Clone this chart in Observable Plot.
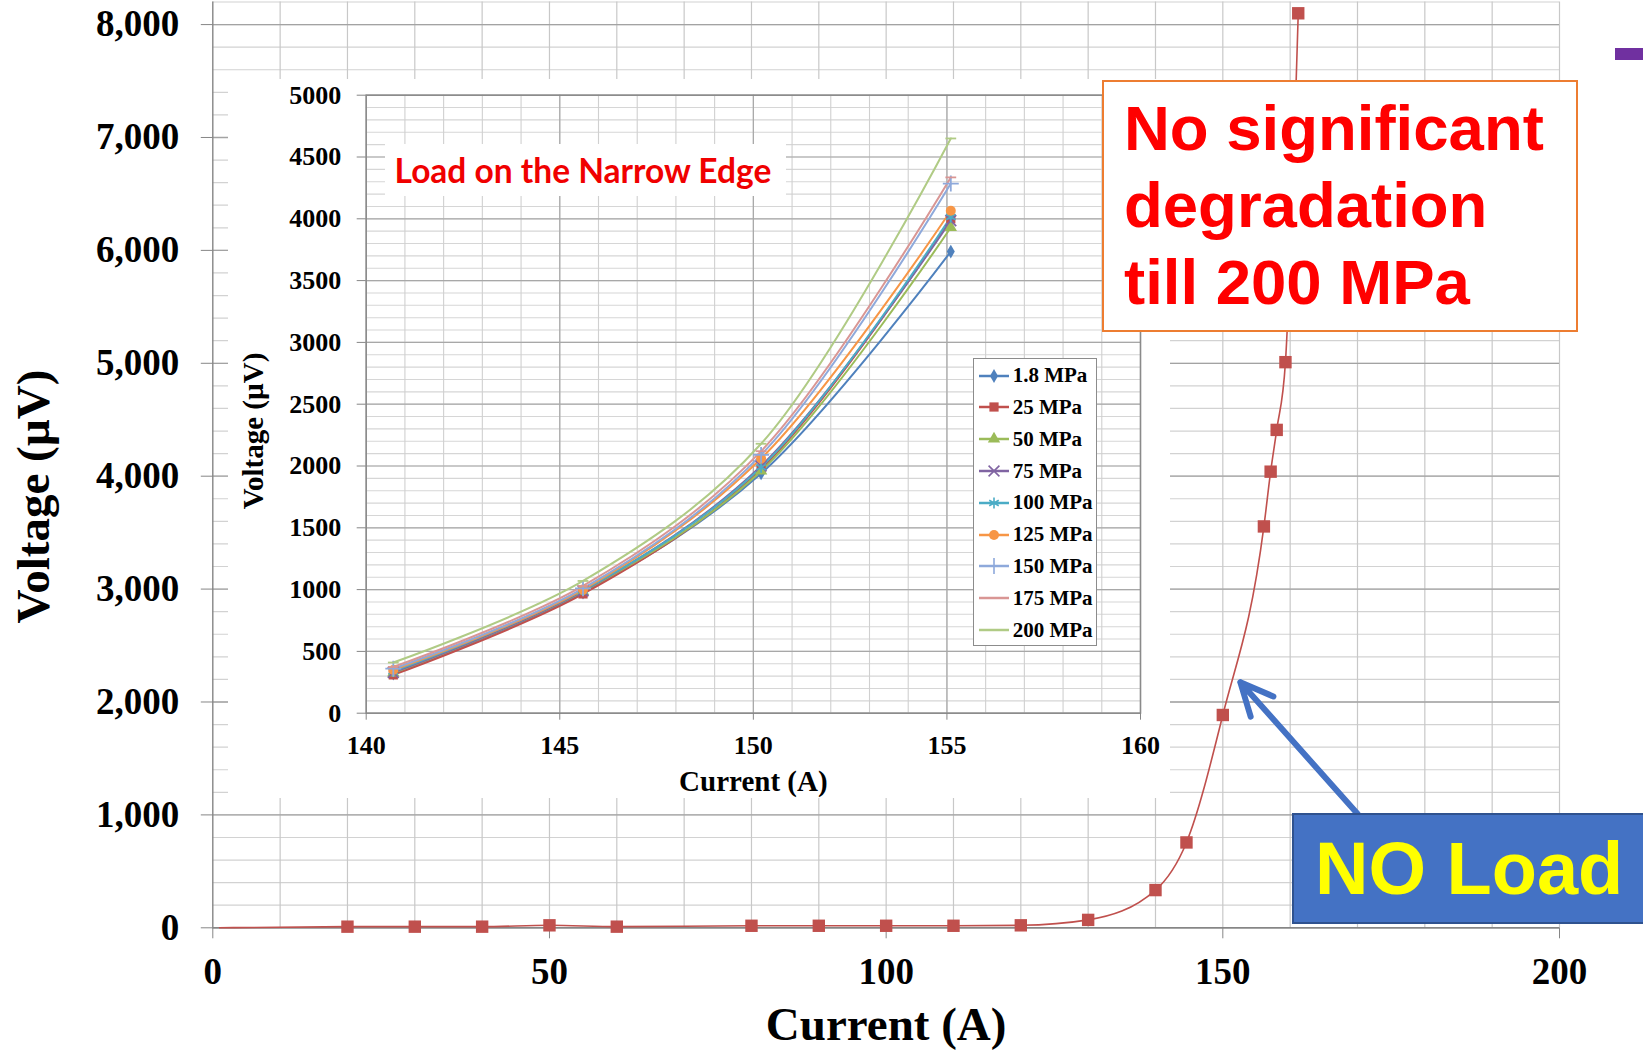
<!DOCTYPE html>
<html>
<head>
<meta charset="utf-8">
<script src="https://cdn.jsdelivr.net/npm/d3@7"></script>
<script src="https://cdn.jsdelivr.net/npm/@observablehq/plot@0.6"></script>
<style>
html, body { margin: 0; padding: 0; background: #fff; }
#wrap { position: relative; width: 1643px; height: 1051px; overflow: hidden; background: #fff; }
.abs { position: absolute; box-sizing: border-box; }
#orange { left: 1102px; top: 80px; width: 476px; height: 252px; border: 2.5px solid #ED7D31; background: #fff;
  font-family: 'Liberation Sans', Arial, sans-serif; font-weight: bold; font-size: 63.5px; line-height: 77px;
  color: #FF0000; padding: 8px 0 0 20px; white-space: nowrap; }
#noload { left: 1292px; top: 813px; width: 400px; height: 111px; border: 2px solid #2F528F; background: #4472C4;
  font-family: 'Liberation Sans', Arial, sans-serif; font-weight: bold; font-size: 74px; line-height: 107px;
  color: #FFFF00; padding: 0 0 0 21px; white-space: nowrap; }
#insetTitle { left: 384.6px; top: 144px; width: 401px; height: 52px; background: #fff;
  font-family: Lato, 'Open Sans', sans-serif; font-weight: bold; font-size: 33.5px; line-height: 52px;
  color: #F00000; padding: 0 0 0 10px; white-space: nowrap; }
#legend { left: 972.7px; top: 358.3px; width: 124.6px; height: 287.7px; border: 1.5px solid #8c8c8c; background: #fff; }
.lrow { position: absolute; left: 0; height: 31.8px; display: flex; align-items: center; white-space: nowrap;
  font-family: 'Liberation Serif', 'Times New Roman', serif; font-weight: bold; font-size: 21px; color: #000; }
#purple { left: 1615px; top: 48px; width: 40px; height: 12px; background: #7030A0; }
</style>
</head>
<body>
<div id="wrap"></div>
<script>
// ---------- Data ----------
// Main chart: NO Load
const noLoadCurrent = [1, 20, 30, 40, 50, 60, 80, 90, 100, 110, 120, 130, 140, 144.6, 150, 156.1, 157.1, 158, 159.3, 161.2];
const noLoadVoltage = [0, 10, 10, 10, 22, 10, 18, 18, 18, 18, 22, 70, 334, 756, 1885, 3555, 4040, 4410, 5010, 8100];
const noLoadMarked = [false, true, true, true, true, true, true, true, true, true, true, true, true, true, true, true, true, true, true, true];

// Inset: Load on the Narrow Edge
const insetCurrent = [140.7, 145.6, 150.2, 155.1];
const seriesNames = ["1.8 MPa", "25 MPa", "50 MPa", "75 MPa", "100 MPa", "125 MPa", "150 MPa", "175 MPa", "200 MPa"];
const v1_8 = [320, 975, 1940, 3735];
const v25 = [310, 965, 1975, 4000];
const v50 = [325, 985, 1960, 3930];
const v75 = [330, 990, 2000, 3985];
const v100 = [340, 995, 1990, 4015];
const v125 = [350, 1000, 2060, 4065];
const v150 = [360, 1010, 2090, 4285];
const v175 = [375, 1030, 2120, 4335];
const v200 = [410, 1070, 2180, 4650];
const seriesValues = [v1_8, v25, v50, v75, v100, v125, v150, v175, v200];
const seriesColors = ["#4F81BD", "#C0504D", "#9BBB59", "#8064A2", "#4BACC6", "#F79646", "#8EA9DB", "#D99694", "#B0CB85"];
const seriesSymbols = ["diamond", "square", "triangle", "times", "asterisk", "circle", "plus", "dash", "dash"];

// Ticks
const mainXTicks = [0, 50, 100, 150, 200];
const mainYTicks = [0, 1000, 2000, 3000, 4000, 5000, 6000, 7000, 8000];
const insetXTicks = [140, 145, 150, 155, 160];
const insetYTicks = [0, 500, 1000, 1500, 2000, 2500, 3000, 3500, 4000, 4500, 5000];

// Annotation arrow (data coordinates of main chart): from the NO Load box to the curve
const arrowFrom = [170, 1010];
const arrowTo = [152.6, 2175];

// ---------- Build ----------
const serif = "'Liberation Serif','Times New Roman',serif";
const wrap = document.getElementById("wrap");

const noLoad = noLoadCurrent.map((c, i) => ({current: c, voltage: noLoadVoltage[i], marked: noLoadMarked[i]}));
const mainMinorY = d3.range(0, 8201, 200);
const mainGridX = d3.range(10, 201, 10);

const main = Plot.plot({
  width: 1643, height: 1051,
  marginLeft: 212.3, marginRight: 84, marginTop: 1.5, marginBottom: 123.7,
  x: {domain: [0, 200]},
  y: {domain: [0, 8200]},
  style: {fontFamily: serif, fontWeight: "bold", color: "#000", background: "transparent"},
  marks: [
    Plot.ruleY(mainMinorY, {stroke: "#d2d2d2", strokeWidth: 1.2}),
    Plot.ruleX(mainGridX, {stroke: "#c8c8c8", strokeWidth: 1.2}),
    Plot.ruleY(mainYTicks, {stroke: "#a3a3a3", strokeWidth: 1.3}),
    Plot.ruleX([0], {stroke: "#868686", strokeWidth: 1.4}),
    Plot.ruleY([0], {stroke: "#868686", strokeWidth: 1.4}),
    Plot.axisY({ticks: mainYTicks, tickSize: 11.5, tickPadding: 22, tickFormat: d3.format(","),
      stroke: "#868686", fill: "#000", fontSize: 37, fontFamily: serif, fontWeight: "bold", label: null}),
    Plot.axisX({ticks: mainXTicks, tickSize: 11, tickPadding: 19,
      stroke: "#868686", fill: "#000", fontSize: 37, fontFamily: serif, fontWeight: "bold", label: null}),
    Plot.text(["Current (A)"], {text: d => d, frameAnchor: "bottom", lineAnchor: "bottom", textAnchor: "middle", dy: 112,
      fontSize: 47, fontFamily: serif, fontWeight: "bold", fill: "#000"}),
    Plot.text(["Voltage (\u00b5V)"], {text: d => d, frameAnchor: "left", lineAnchor: "bottom", textAnchor: "middle", rotate: -90,
      dx: -164.3, dy: 31.6, fontSize: 47, fontFamily: serif, fontWeight: "bold", fill: "#000"}),
    Plot.line(noLoad, {x: "current", y: "voltage", stroke: "#C0504D", strokeWidth: 1.6, curve: "monotone-x"}),
    Plot.dot(noLoad.filter(d => d.marked), {x: "current", y: "voltage", symbol: "square", r: 7, fill: "#C0504D", stroke: "none"}),
    Plot.arrow([{from: arrowFrom, to: arrowTo}], {x1: d => d.from[0], y1: d => d.from[1], x2: d => d.to[0], y2: d => d.to[1],
      stroke: "#4472C4", strokeWidth: 6, headLength: 9, headAngle: 50})
  ]
});
main.setAttribute("class", "abs");
main.style.left = "0px"; main.style.top = "0px";
wrap.append(main);

// Inset
const insetData = seriesNames.flatMap((s, k) => insetCurrent.map((c, i) => ({series: s, current: c, voltage: seriesValues[k][i]})));
const insetMinorY = d3.range(0, 5001, 100);
const insetMinorX = d3.range(141, 160, 1);
const dashSymbol = {draw(ctx, size) { const w = Math.sqrt(size / Math.PI) * 1.2; ctx.moveTo(-w, 0); ctx.lineTo(w, 0); }};
const filledSyms = new Set(["diamond", "square", "triangle", "circle"]);
const symR = {diamond: 4.2, square: 5.2, triangle: 4.6, circle: 5, times: 5, asterisk: 5.2, plus: 5.2, dash: 4.5};

const dotMarks = seriesNames.map((s, k) => {
  const sym = seriesSymbols[k];
  const d = insetData.filter(e => e.series === s);
  const filled = filledSyms.has(sym);
  return Plot.dot(d, {x: "current", y: "voltage", symbol: sym === "dash" ? dashSymbol : sym, r: symR[sym],
    fill: filled ? seriesColors[k] : "none", stroke: filled ? "none" : seriesColors[k], strokeWidth: filled ? 0 : 1.8});
});

const inset = Plot.plot({
  width: 942, height: 719,
  marginLeft: 137.7, marginRight: 30, marginTop: 15.7, marginBottom: 85.3,
  x: {domain: [140, 160]},
  y: {domain: [0, 5000]},
  color: {domain: seriesNames, range: seriesColors},
  style: {fontFamily: serif, fontWeight: "bold", color: "#000", background: "#fff"},
  marks: [
    Plot.ruleY(insetMinorY, {stroke: "#d6d6d6", strokeWidth: 1.1}),
    Plot.ruleX(insetMinorX, {stroke: "#d0d0d0", strokeWidth: 1.1}),
    Plot.ruleY(insetYTicks, {stroke: "#a8a8a8", strokeWidth: 1.2}),
    Plot.ruleX(insetXTicks, {stroke: "#a8a8a8", strokeWidth: 1.2}),
    Plot.frame({stroke: "#8a8a8a", strokeWidth: 1.5}),
    Plot.axisY({ticks: insetYTicks, tickSize: 9, tickPadding: 16, tickFormat: d => String(d),
      stroke: "#868686", fill: "#000", fontSize: 26, fontFamily: serif, fontWeight: "bold", label: null}),
    Plot.axisX({ticks: insetXTicks, tickSize: 7, tickPadding: 15,
      stroke: "#868686", fill: "#000", fontSize: 26, fontFamily: serif, fontWeight: "bold", label: null}),
    Plot.text(["Current (A)"], {text: d => d, frameAnchor: "bottom", lineAnchor: "bottom", textAnchor: "middle", dy: 77.3,
      fontSize: 29, fontFamily: serif, fontWeight: "bold", fill: "#000"}),
    Plot.text(["Voltage (\u00b5V)"], {text: d => d, frameAnchor: "left", lineAnchor: "bottom", textAnchor: "middle", rotate: -90,
      dx: -103.7, dy: 26.8, fontSize: 29, fontFamily: serif, fontWeight: "bold", fill: "#000"}),
    Plot.line(insetData, {x: "current", y: "voltage", z: "series", stroke: "series", strokeWidth: 2, curve: "catmull-rom"}),
    ...dotMarks
  ]
});
inset.setAttribute("class", "abs");
inset.style.left = "228px"; inset.style.top = "79px";
wrap.append(inset);

// Title box inside inset
const title = document.createElement("div");
title.id = "insetTitle"; title.className = "abs";
title.textContent = "Load on the Narrow Edge";
wrap.append(title);

// Legend of inset
const legend = document.createElement("div");
legend.id = "legend"; legend.className = "abs";
const d3Sym = {diamond: d3.symbolDiamond, square: d3.symbolSquare, triangle: d3.symbolTriangle, times: d3.symbolTimes,
  asterisk: d3.symbolAsterisk, circle: d3.symbolCircle, plus: d3.symbolPlus};
seriesNames.forEach((s, k) => {
  const row = document.createElement("div");
  row.className = "lrow";
  row.style.top = (0.5 + k * 31.8) + "px";
  const svg = d3.create("svg").attr("width", 38).attr("height", 20).style("display", "block");
  svg.append("line").attr("x1", 5).attr("x2", 35).attr("y1", 10).attr("y2", 10).attr("stroke", seriesColors[k]).attr("stroke-width", 2.5);
  const sym = seriesSymbols[k];
  if (d3Sym[sym]) {
    const filled = filledSyms.has(sym);
    const size = Math.PI * symR[sym] * symR[sym];
    svg.append("path").attr("transform", "translate(20,10)").attr("d", d3.symbol(d3Sym[sym], size)())
      .attr("fill", filled ? seriesColors[k] : "none").attr("stroke", filled ? "none" : seriesColors[k]).attr("stroke-width", 1.6);
  }
  row.append(svg.node());
  const t = document.createElement("span");
  t.textContent = s;
  t.style.marginLeft = "1px";
  row.append(t);
  legend.append(row);
});
wrap.append(legend);

// Orange callout
const orange = document.createElement("div");
orange.id = "orange"; orange.className = "abs";
orange.innerHTML = "No significant<br>degradation<br>till 200 MPa";
wrap.append(orange);

// NO Load box
const noload = document.createElement("div");
noload.id = "noload"; noload.className = "abs";
noload.textContent = "NO Load";
wrap.append(noload);

// cut-off purple legend fragment at the top right
const purple = document.createElement("div");
purple.id = "purple"; purple.className = "abs";
wrap.append(purple);
</script>
</body>
</html>
